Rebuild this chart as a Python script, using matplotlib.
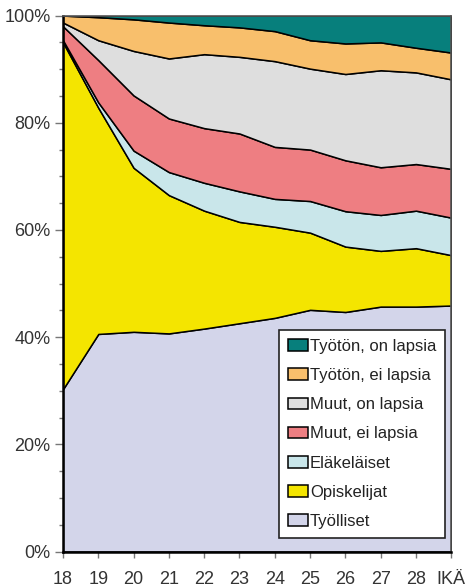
import matplotlib
matplotlib.use('Agg')
import matplotlib.pyplot as plt
import matplotlib.ticker as mtick

plt.rcParams['font.family'] = ['Liberation Sans', 'DejaVu Sans']

# Age groups (29 is shown as the axis title "IKÄ")
ages = [18, 19, 20, 21, 22, 23, 24, 25, 26, 27, 28, 29]
tick_labels = ['18', '19', '20', '21', '22', '23', '24', '25', '26', '27', '28', 'IKÄ']

# Shares (%) of each group, bottom to top
tyolliset = [30.3, 40.6, 41.0, 40.7, 41.6, 42.6, 43.6, 45.1, 44.7, 45.7, 45.7, 45.9]
opiskelijat = [64.7, 42.2, 30.6, 25.8, 22.0, 18.9, 17.0, 14.4, 12.2, 10.4, 10.9, 9.4]
elakelaiset = [0.4, 1.0, 3.2, 4.3, 5.2, 5.7, 5.2, 5.9, 6.6, 6.7, 7.0, 7.0]
muut_ei_lapsia = [2.6, 7.9, 10.3, 10.0, 10.2, 10.8, 9.7, 9.6, 9.5, 8.9, 8.7, 9.1]
muut_on_lapsia = [0.7, 3.7, 8.3, 11.2, 13.8, 14.3, 16.0, 15.1, 16.1, 18.1, 17.1, 16.7]
tyoton_ei_lapsia = [1.3, 4.3, 5.9, 6.7, 5.4, 5.5, 5.6, 5.3, 5.7, 5.2, 4.6, 5.0]
tyoton_on_lapsia = [0.0, 0.3, 0.7, 1.3, 1.8, 2.2, 2.9, 4.6, 5.2, 5.0, 6.0, 6.9]

labels = ['Työlliset', 'Opiskelijat', 'Eläkeläiset', 'Muut, ei lapsia',
          'Muut, on lapsia', 'Työtön, ei lapsia', 'Työtön, on lapsia']
colors = ['#d3d5ea', '#f4e500', '#c9e6ea', '#ee7e82', '#dedede', '#f8bf6c', '#077f7c']

fig = plt.figure(figsize=(4.65, 5.88), dpi=100)
ax = fig.add_axes([0.1355, 0.062, 0.835, 0.9115])

polys = ax.stackplot(ages, tyolliset, opiskelijat, elakelaiset, muut_ei_lapsia,
                     muut_on_lapsia, tyoton_ei_lapsia, tyoton_on_lapsia,
                     labels=labels, colors=colors, edgecolor='black', linewidth=1.1)

ax.set_xlim(18, 29)
ax.set_ylim(0, 100)

ax.set_xticks(ages)
ax.set_xticklabels(tick_labels)
ax.set_yticks(range(0, 101, 20))
ax.yaxis.set_minor_locator(mtick.MultipleLocator(5))
ax.yaxis.set_major_formatter(mtick.FormatStrFormatter('%d%%'))

ax.tick_params(axis='y', which='major', length=6, width=1, color='#777777',
               labelsize=13, labelcolor='#333333', pad=3)
ax.tick_params(axis='y', which='minor', length=3, width=1, color='#777777')
ax.tick_params(axis='x', which='major', length=4, width=1, color='#777777',
               labelsize=13, labelcolor='#333333', pad=10)

for side in ['left', 'bottom']:
    ax.spines[side].set_linewidth(1.8)
    ax.spines[side].set_color('black')
for side in ['top', 'right']:
    ax.spines[side].set_linewidth(1.2)
    ax.spines[side].set_color('#555555')
for side in ax.spines:
    ax.spines[side].set_zorder(5)

handles, leg_labels = ax.get_legend_handles_labels()
leg = ax.legend(handles[::-1], leg_labels[::-1], loc='lower right',
                bbox_to_anchor=(0.985, 0.025), fontsize=12, frameon=True,
                fancybox=False, framealpha=1, edgecolor='#222222',
                handlelength=1.2, handleheight=0.7, handletextpad=0.1,
                labelspacing=0.85, borderpad=0.55, borderaxespad=0)
leg.get_frame().set_linewidth(1.2)
for t in leg.get_texts():
    t.set_color('#222222')

fig.savefig('out.png', dpi=100)
